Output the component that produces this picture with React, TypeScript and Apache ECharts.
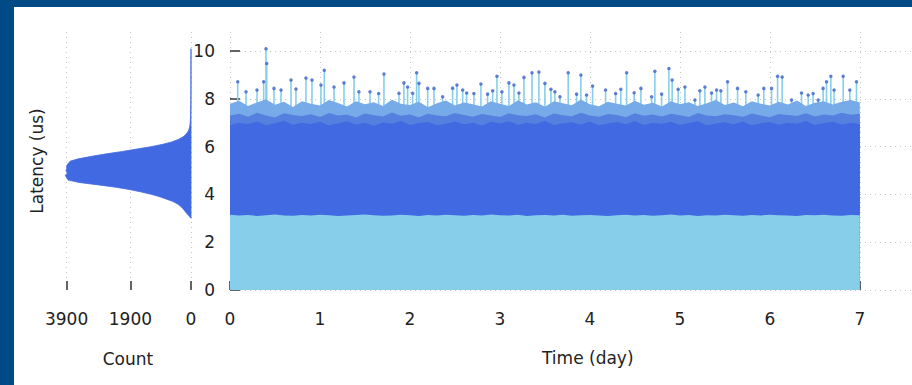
import React, { useEffect, useRef } from "react";
import * as echarts from "echarts";

// ---- tick labels ----
const countTicks = [0, 1900, 3900];
const timeTicks = [0, 1, 2, 3, 4, 5, 6, 7];
const latencyTicks = [0, 2, 4, 6, 8, 10];

// ---- histogram (latency us -> count) ----
const histLatency = [
  3.0, 3.1, 3.2, 3.3, 3.4, 3.5, 3.6, 3.7, 3.8, 3.9,
  4.0, 4.1, 4.2, 4.3, 4.4, 4.5, 4.6, 4.7, 4.8, 4.9,
  5.0, 5.1, 5.2, 5.3, 5.4, 5.5, 5.6, 5.7, 5.8, 5.9,
  6.0, 6.1, 6.2, 6.3, 6.4, 6.5, 6.6, 6.7, 6.8, 6.9,
  7.0, 7.2, 7.4, 7.6, 7.8, 8.0, 8.5, 9.0, 9.5, 10.0, 10.1,
];
const histCount = [
  0, 60, 130, 190, 250, 320, 420, 560, 760, 975,
  1230, 1550, 1900, 2350, 2900, 3500, 3850, 3900, 3940, 3870,
  3920, 3890, 3900, 3850, 3780, 3500, 3100, 2650, 2150, 1700,
  1250, 880, 600, 400, 260, 170, 110, 70, 48, 34,
  25, 16, 12, 9, 7, 5, 3, 2, 1.5, 1, 0,
];

// ---- main plot envelopes, one value every 0.1 day from 0 to 7 ----
const lowerEdge = [
  3.15, 3.12, 3.14, 3.1, 3.13, 3.16, 3.12, 3.11, 3.14, 3.12,
  3.15, 3.13, 3.1, 3.12, 3.14, 3.16, 3.13, 3.11, 3.12, 3.15,
  3.13, 3.1, 3.14, 3.12, 3.15, 3.13, 3.11, 3.14, 3.12, 3.16,
  3.13, 3.12, 3.15, 3.1, 3.13, 3.14, 3.12, 3.15, 3.11, 3.13,
  3.14, 3.12, 3.1, 3.13, 3.15, 3.12, 3.14, 3.11, 3.13, 3.16,
  3.12, 3.14, 3.1, 3.13, 3.12, 3.15, 3.13, 3.11, 3.14, 3.12,
  3.15, 3.13, 3.12, 3.1, 3.14, 3.13, 3.15, 3.12, 3.11, 3.14, 3.13,
];
const bandTop = [
  6.9, 7.0, 6.95, 7.05, 6.9, 6.98, 7.08, 6.92, 7.0, 6.95,
  7.04, 6.9, 6.97, 7.06, 6.93, 7.0, 6.88, 7.02, 6.96, 7.07,
  6.91, 6.99, 7.03, 6.9, 6.96, 7.05, 6.94, 7.0, 6.89, 7.04,
  6.97, 7.06, 6.92, 7.0, 6.95, 7.08, 6.9, 6.98, 7.02, 6.93,
  7.05, 6.9, 6.97, 7.03, 6.94, 7.07, 6.91, 7.0, 6.96, 7.04,
  6.92, 6.99, 7.06, 6.9, 6.97, 7.02, 6.94, 7.05, 6.9, 6.98,
  7.03, 6.92, 7.0, 6.96, 7.07, 6.91, 6.99, 7.04, 6.93, 7.0, 6.95,
];
const fringeDarkTop = [
  7.3, 7.38, 7.25, 7.42, 7.3, 7.22, 7.4, 7.33, 7.28, 7.36,
  7.24, 7.41, 7.3, 7.35, 7.22, 7.39, 7.31, 7.26, 7.43, 7.29,
  7.35, 7.23, 7.38, 7.3, 7.27, 7.41, 7.33, 7.25, 7.37, 7.3,
  7.24, 7.4, 7.32, 7.28, 7.36, 7.22, 7.39, 7.31, 7.27, 7.42,
  7.3, 7.25, 7.37, 7.33, 7.23, 7.4, 7.29, 7.35, 7.26, 7.38,
  7.31, 7.24, 7.41, 7.3, 7.27, 7.36, 7.32, 7.25, 7.39, 7.3,
  7.23, 7.37, 7.33, 7.28, 7.4, 7.26, 7.35, 7.3, 7.42, 7.34, 7.38,
];
const fringeLightTop = [
  7.8, 7.92, 7.7, 7.85, 7.98, 7.75, 7.88, 7.66, 7.9, 7.8,
  7.72, 7.95, 7.83, 7.68, 7.9, 7.78, 7.86, 7.7, 7.96, 7.8,
  7.74, 7.88, 7.65, 7.82, 7.93, 7.72, 7.85, 7.78, 7.68, 7.9,
  7.8, 7.7, 7.94, 7.76, 7.86, 7.67, 7.9, 7.82, 7.73, 7.97,
  7.78, 7.69, 7.88, 7.8, 7.72, 7.92, 7.75, 7.84, 7.68, 7.9,
  7.78, 7.86, 7.7, 7.82, 7.95, 7.74, 7.85, 7.69, 7.9, 7.8,
  7.72, 7.88, 7.77, 7.93, 7.7, 7.84, 7.9, 7.76, 7.88, 7.95, 7.85,
];

// ---- individual outliers: time (day), latency (us) ----
const spikeTime = [
  0.086, 0.178, 0.3, 0.374, 0.4, 0.408, 0.489, 0.567, 0.678, 0.733,
  0.844, 0.911, 1.011, 1.048, 1.156, 1.267, 1.378, 1.433, 1.556, 1.652,
  1.711, 1.878, 1.933, 1.974, 2.03, 2.074, 2.1, 2.197, 2.267, 2.363,
  2.474, 2.522, 2.586, 2.63, 2.711, 2.789, 2.863, 2.919, 2.967, 3.022,
  3.1, 3.156, 3.211, 3.267, 3.356, 3.433, 3.5, 3.567, 3.611, 3.667,
  3.759, 3.852, 3.9, 3.963, 4.03, 4.174, 4.286, 4.344, 4.408, 4.492,
  4.567, 4.686, 4.722, 4.797, 4.878, 4.914, 4.981, 5.056, 5.167, 5.222,
  5.278, 5.352, 5.408, 5.456, 5.53, 5.641, 5.733, 5.87, 5.933, 6.019,
  6.086, 6.137, 6.241, 6.352, 6.426, 6.481, 6.537, 6.592, 6.63, 6.678,
  6.714, 6.815, 6.889, 6.963,
];
const spikeLatency = [
  8.72, 8.3, 8.37, 8.72, 10.1, 9.48, 8.44, 8.37, 8.79, 8.41,
  8.87, 8.79, 8.58, 9.2, 8.5, 8.67, 8.92, 8.3, 8.3, 8.23,
  9.04, 8.24, 8.67, 8.5, 8.24, 9.09, 8.65, 8.44, 8.44, 8.09,
  8.45, 8.58, 8.37, 8.25, 8.23, 8.62, 8.2, 8.34, 8.95, 8.3,
  8.67, 8.58, 8.25, 8.9, 9.09, 9.13, 8.65, 8.4, 8.3, 8.09,
  9.09, 8.2, 9.0, 8.16, 8.54, 8.37, 8.23, 8.4, 9.09, 8.26,
  8.44, 8.09, 9.16, 8.2, 9.27, 8.79, 8.4, 8.5, 7.95, 8.34,
  8.5, 8.25, 8.37, 8.34, 8.72, 8.44, 8.3, 8.16, 8.44, 8.44,
  8.95, 8.92, 7.95, 8.25, 8.16, 8.23, 7.95, 8.44, 8.72, 8.95,
  8.37, 8.95, 8.37, 8.72,
];

const FONT = "DejaVu Sans";
const TEXT = "#222222";
const GRID_LINE = { color: "#c4c4c4", width: 1, type: [1, 4] as number[] };
const SKY = "#87ceeb";
const ROYAL = "#4169e1";
const TIME_MAX = 7.58; // the plot area runs past the last labelled day to the panel edge

const envPairs = (vals: number[]) => vals.map((v, i) => [i / 10, v]);
const plain = (v: number) => String(v);

export default function App() {
  const ref = useRef<HTMLDivElement>(null);

  useEffect(() => {
    if (!ref.current) return;
    const chart = echarts.init(ref.current, undefined, { renderer: "svg" });

    const areaSeries = (name: string, vals: number[], color: string) => ({
      name,
      type: "line",
      xAxisIndex: 1,
      yAxisIndex: 1,
      data: envPairs(vals),
      showSymbol: false,
      symbol: "none",
      lineStyle: { width: 0 },
      areaStyle: { color, opacity: 1 },
      silent: true,
    });

    const spikes = spikeTime.map((t, i) => [t, spikeLatency[i]]);

    chart.setOption({
      animation: false,
      textStyle: { fontFamily: FONT, color: TEXT },
      grid: [
        { left: 65, width: 126, top: 32, bottom: 95 },
        { left: 230, right: 0, top: 32, bottom: 95 },
      ],
      xAxis: [
        {
          gridIndex: 0,
          type: "value",
          inverse: true,
          min: 0,
          max: 3950,
          name: "Count",
          nameLocation: "middle",
          nameGap: 60,
          nameTextStyle: { fontFamily: FONT, fontSize: 17, color: TEXT },
          axisLine: { show: false },
          axisTick: { show: true, inside: true, length: 9, customValues: countTicks, lineStyle: { color: "#333", width: 1.5 } },
          axisLabel: { customValues: countTicks, formatter: plain, fontSize: 17, color: TEXT, margin: 20, fontFamily: FONT },
          splitLine: { show: true, lineStyle: GRID_LINE },
        },
        {
          gridIndex: 1,
          type: "value",
          min: 0,
          max: TIME_MAX,
          axisLine: { show: false },
          axisTick: { show: true, inside: true, length: 9, customValues: timeTicks, lineStyle: { color: "#333", width: 1.5 } },
          axisLabel: { customValues: timeTicks, formatter: plain, fontSize: 17, color: TEXT, margin: 20, fontFamily: FONT },
          splitLine: { show: true, lineStyle: GRID_LINE },
        },
      ],
      yAxis: [
        {
          gridIndex: 0,
          type: "value",
          min: 0,
          max: 10.8,
          position: "left",
          name: "Latency (us)",
          nameLocation: "middle",
          nameGap: 20,
          nameTextStyle: { fontFamily: FONT, fontSize: 17, color: TEXT },
          axisLine: { show: false, onZero: false },
          axisTick: { show: false },
          axisLabel: { show: false },
          splitLine: { show: false },
        },
        {
          gridIndex: 1,
          type: "value",
          min: 0,
          max: 10.8,
          position: "left",
          axisLine: { show: false, onZero: false },
          axisTick: { show: true, inside: true, length: 10, customValues: latencyTicks, lineStyle: { color: "#333", width: 1.5 } },
          axisLabel: { customValues: latencyTicks, formatter: plain, fontSize: 17, color: TEXT, margin: 15, fontFamily: FONT },
          splitLine: { show: true, lineStyle: GRID_LINE },
        },
      ],
      graphic: [
        {
          type: "text",
          left: 590 - 48,
          top: 349,
          style: { text: "Time (day)", font: `17px "${FONT}"`, fill: TEXT },
          silent: true,
        },
      ],
      series: [
        {
          name: "histogram",
          type: "custom",
          xAxisIndex: 0,
          yAxisIndex: 0,
          data: histCount.map((c, i) => [c, histLatency[i]]),
          renderItem: (params: any, api: any) => {
            if (params.dataIndex !== 0) return null;
            const pts: number[][] = [];
            pts.push(api.coord([0, histLatency[0]]));
            for (let i = 0; i < histCount.length; i++) {
              pts.push(api.coord([histCount[i], histLatency[i]]));
            }
            pts.push(api.coord([0, histLatency[histLatency.length - 1]]));
            return {
              type: "polygon",
              shape: { points: pts },
              style: { fill: ROYAL, stroke: ROYAL, lineWidth: 0.8 },
            };
          },
          silent: true,
        },
        {
          name: "stems",
          type: "bar",
          xAxisIndex: 1,
          yAxisIndex: 1,
          data: spikes,
          barWidth: 1.6,
          itemStyle: { color: SKY },
          silent: true,
        },
        areaSeries("fringeLight", fringeLightTop, "#76aae8"),
        areaSeries("fringeDark", fringeDarkTop, "#5580e0"),
        areaSeries("band", bandTop, ROYAL),
        areaSeries("base", lowerEdge, SKY),
        {
          name: "outliers",
          type: "scatter",
          xAxisIndex: 1,
          yAxisIndex: 1,
          data: spikes,
          symbol: "circle",
          symbolSize: 3.5,
          itemStyle: { color: "#3e62c8" },
          silent: true,
        },
      ],
    });

    return () => chart.dispose();
  }, []);

  return (
    <div style={{ position: "fixed", left: 0, top: 0, width: 912, height: 385, background: "#004b87", overflow: "hidden" }}>
      <div style={{ position: "absolute", left: 14, top: 7, right: 0, bottom: 0, background: "#ffffff" }} />
      <div ref={ref} style={{ position: "absolute", left: 0, top: 0, width: 912, height: 385 }} />
    </div>
  );
}
